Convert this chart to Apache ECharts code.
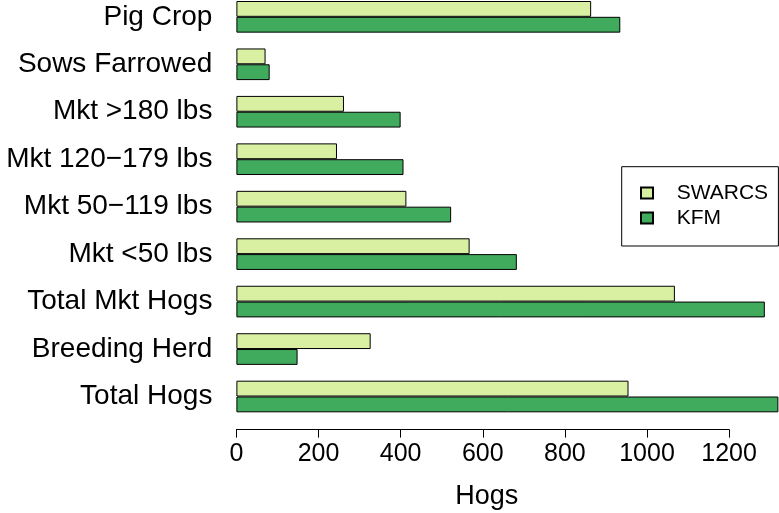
<!DOCTYPE html>
<html>
<head>
<meta charset="utf-8">
<script src="https://cdn.jsdelivr.net/npm/echarts@6/dist/echarts.min.js"></script>
<style>
  html, body { margin: 0; padding: 0; background: #ffffff; }
  #chart { width: 779px; height: 513px; }
</style>
</head>
<body>
<div id="chart"></div>
<script>
// ---- data ----
const categories = ['Pig Crop', 'Sows Farrowed', 'Mkt >180 lbs', 'Mkt 120\u2212179 lbs', 'Mkt 50\u2212119 lbs', 'Mkt <50 lbs', 'Total Mkt Hogs', 'Breeding Herd', 'Total Hogs'];
const seriesNames = ['SWARCS', 'KFM'];
const swarcs = [864, 71, 262, 245, 414, 568, 1068, 327, 955];
const kfm = [935, 81, 400, 407, 523, 683, 1287, 149, 1320];
const xTicksMax = 1200;
const xTickStep = 200;
const xTitle = 'Hogs';

// ---- layout ----
const FONT = "'Liberation Sans', Arial, Helvetica, sans-serif";
const plotLeft = 236.4;
const axisWidth = 492.7;          // pixel length of 0..1200
const firstCenter = 16.82;        // pixel y of first group centre
const lastCenter = 396.5;         // pixel y of last group centre
const axisLineY = 429.6;
const barH = 15.82;

const chart = echarts.init(document.getElementById('chart'), null, { renderer: 'canvas' });
chart.setOption({
  animation: false,
  backgroundColor: '#ffffff',
  textStyle: { fontFamily: FONT },
  grid: {
    left: plotLeft,
    top: firstCenter,
    width: axisWidth,
    height: lastCenter - firstCenter,
    containLabel: false,
    outerBoundsMode: 'none'
  },
  legend: {
    data: seriesNames,
    orient: 'vertical',
    left: 621.7,
    top: 166.7,
    padding: [15.8, 10.3, 17.5, 18.3],
    icon: 'rect',
    itemWidth: 12,
    itemHeight: 11,
    itemGap: 4,
    borderColor: '#000',
    borderWidth: 1,
    borderRadius: 0,
    textStyle: { fontFamily: FONT, fontSize: 21, color: '#000', lineHeight: 21, padding: [0, 0, 0, 18.7] }
  },
  xAxis: {
    type: 'value',
    min: 0,
    max: xTicksMax,
    interval: xTickStep,
    offset: axisLineY - lastCenter,
    splitLine: { show: false },
    axisLine: { show: true, lineStyle: { color: '#000', width: 1 } },
    axisTick: { show: true, length: 8, lineStyle: { color: '#000', width: 1 } },
    axisLabel: { fontFamily: FONT, fontSize: 25, color: '#000', margin: 12, formatter: function (v) { return String(v); } },
    name: xTitle,
    nameLocation: 'middle',
    nameGap: 53,
    nameTextStyle: { fontFamily: FONT, fontSize: 27, color: '#000', padding: [0, 0, 0, 8] }
  },
  yAxis: {
    type: 'category',
    data: categories,
    inverse: true,
    boundaryGap: false,
    axisLine: { show: false },
    axisTick: { show: false },
    splitLine: { show: false },
    axisLabel: { fontFamily: FONT, fontSize: 28, color: '#000', margin: 24 }
  },
  series: [
    {
      name: seriesNames[0],
      type: 'bar',
      data: swarcs,
      barWidth: barH,
      barGap: '0%',
      clip: false,
      itemStyle: { color: '#D9F0A3', borderColor: '#000', borderWidth: 1 }
    },
    {
      name: seriesNames[1],
      type: 'bar',
      data: kfm,
      barWidth: barH,
      barGap: '0%',
      clip: false,
      itemStyle: { color: '#41AB5D', borderColor: '#000', borderWidth: 1 }
    }
  ]
});
</script>
</body>
</html>
